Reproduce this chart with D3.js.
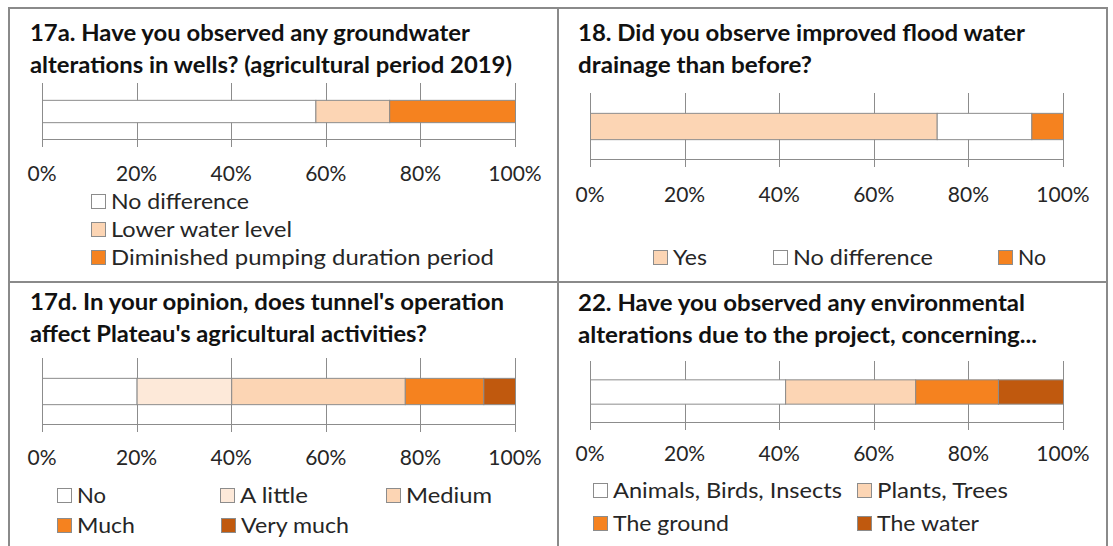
<!DOCTYPE html>
<html>
<head>
<meta charset="utf-8">
<script src="https://cdn.jsdelivr.net/npm/d3@7"></script>
<style>
  body { margin: 0; background: #fff; }
  svg { display: block; }
  text { font-family: Lato, "Noto Sans", sans-serif; fill: #1c1c1c; }
</style>
</head>
<body>
<svg id="chart" width="1113" height="546"></svg>
<script>
// Survey answers, share of respondents (%)
const q17aTitle = ["17a. Have you observed any groundwater", "alterations in wells? (agricultural period 2019)"];
const q17aCategories = ["No difference", "Lower water level", "Diminished pumping duration period"];
const q17aValues = [57.8, 15.6, 26.6];

const q18Title = ["18. Did you observe improved flood water", "drainage than before?"];
const q18Categories = ["Yes", "No difference", "No"];
const q18Values = [73.3, 20.0, 6.7];

const q17dTitle = ["17d. In your opinion, does tunnel's operation", "affect Plateau's agricultural activities?"];
const q17dCategories = ["No", "A little", "Medium", "Much", "Very much"];
const q17dValues = [20.0, 20.0, 36.7, 16.6, 6.7];

const q22Title = ["22. Have you observed any environmental", "alterations due to the project, concerning..."];
const q22Categories = ["Animals, Birds, Insects", "Plants, Trees", "The ground", "The water"];
const q22Values = [41.25, 27.5, 17.5, 13.75];

const tickValues = [0, 20, 40, 60, 80, 100];
const tickLabels = ["0%", "20%", "40%", "60%", "80%", "100%"];

// fills
const C = {
  white: "#ffffff",
  pale: "#fde9d9",
  peach: "#fcd5b4",
  orange: "#f5821f",
  brown: "#c0590e"
};

// layout of each panel: frame, title lines, plot area, legend slots
const panels = [
  {
    box: [9, 8, 549, 274],
    title: q17aTitle, categories: q17aCategories, values: q17aValues,
    colors: [C.white, C.peach, C.orange],
    titleX: 30, titleY: [33, 65], titleW: [440, 482],
    x0: 42, x1: 515, top: 83, axis: 139, labelY: 173,
    legend: [[91, 201], [91, 229], [91, 257]],
    legendW: [138, 181, 383]
  },
  {
    box: [558, 8, 549, 274],
    title: q18Title, categories: q18Categories, values: q18Values,
    colors: [C.peach, C.white, C.orange],
    titleX: 578, titleY: [33, 65], titleW: [447, 234],
    x0: 590, x1: 1063, top: 93, axis: 159, labelY: 194,
    legend: [[653, 257], [773, 257], [998, 257]],
    legendW: [34, 140, 28]
  },
  {
    box: [9, 282, 549, 270],
    title: q17dTitle, categories: q17dCategories, values: q17dValues,
    colors: [C.white, C.pale, C.peach, C.orange, C.brown],
    titleX: 30, titleY: [302, 334], titleW: [474, 397],
    x0: 42, x1: 515, top: 358, axis: 424, labelY: 457,
    legend: [[57, 495], [220, 495], [386, 495], [57, 525], [221, 525]],
    legendW: [29, 68, 86, 58, 108]
  },
  {
    box: [558, 282, 549, 270],
    title: q22Title, categories: q22Categories, values: q22Values,
    colors: [C.white, C.peach, C.orange, C.brown],
    titleX: 578, titleY: [303, 335], titleW: [447, 459],
    x0: 590, x1: 1063, top: 361, axis: 422, labelY: 453,
    legend: [[593, 490], [857, 490], [593, 523], [857, 523]],
    legendW: [229, 131, 116, 102]
  }
];

const svg = d3.select("#chart");

// panel frames
panels.forEach(p => {
  svg.append("rect")
    .attr("x", p.box[0]).attr("y", p.box[1])
    .attr("width", p.box[2]).attr("height", p.box[3])
    .attr("fill", "none").attr("stroke", "#8a8a8a").attr("stroke-width", 2);
});

panels.forEach(p => {
  const g = svg.append("g");

  // title
  g.selectAll("text.title").data(p.title).join("text")
    .attr("class", "title")
    .attr("x", p.titleX).attr("y", (d, i) => p.titleY[i])
    .attr("dy", "0.36em")
    .attr("textLength", (d, i) => p.titleW[i])
    .attr("lengthAdjust", "spacingAndGlyphs")
    .style("font-size", "22px").style("font-weight", 700)
    .style("fill", "#111")
    .text(d => d);

  const x = d3.scaleLinear().domain([0, 100]).range([p.x0, p.x1]);
  const y = d3.scaleBand().domain(["q"]).range([p.top, p.axis]).paddingInner(0.43).paddingOuter(0.43);

  // gridlines + tick marks
  g.selectAll("line.grid").data(tickValues).join("line")
    .attr("x1", d => Math.round(x(d)) + 0.5).attr("x2", d => Math.round(x(d)) + 0.5)
    .attr("y1", p.top).attr("y2", p.axis + 8)
    .attr("stroke", "#8c8c8c").attr("stroke-width", 1);

  // stacked segments
  let acc = 0;
  const segs = p.values.map((v, i) => {
    const s = { start: acc, end: acc + v, color: p.colors[i] };
    acc += v;
    return s;
  });
  g.selectAll("rect.seg").data(segs).join("rect")
    .attr("x", d => x(d.start) + 0.5)
    .attr("width", d => x(d.end) - x(d.start))
    .attr("y", y("q") + 0.5)
    .attr("height", y.bandwidth())
    .attr("fill", d => d.color)
    .attr("stroke", "#8c8c8c").attr("stroke-width", 1);

  // axis line
  g.append("line")
    .attr("x1", p.x0).attr("x2", p.x1 + 1)
    .attr("y1", p.axis + 0.5).attr("y2", p.axis + 0.5)
    .attr("stroke", "#8c8c8c");

  // tick labels
  g.selectAll("text.tick").data(tickValues).join("text")
    .attr("class", "tick")
    .attr("x", d => x(d)).attr("y", p.labelY)
    .attr("dy", "0.36em").attr("text-anchor", "middle")
    .style("font-size", "21px").style("fill", "#262626")
    .text((d, i) => tickLabels[i]);

  // legend
  const items = p.categories.map((c, i) => ({ name: c, color: p.colors[i], pos: p.legend[i], w: p.legendW[i] }));
  const li = g.selectAll("g.leg").data(items).join("g")
    .attr("transform", d => `translate(${d.pos[0]},${d.pos[1]})`);
  li.append("rect")
    .attr("x", 0.5).attr("y", -6.5).attr("width", 14).attr("height", 14)
    .attr("fill", d => d.color).attr("stroke", "#8c8c8c");
  li.append("text")
    .attr("x", 20).attr("dy", "0.36em")
    .attr("textLength", d => d.w)
    .attr("lengthAdjust", "spacingAndGlyphs")
    .style("font-size", "22px").style("fill", "#262626")
    .text(d => d.name);
});
</script>
</body>
</html>
